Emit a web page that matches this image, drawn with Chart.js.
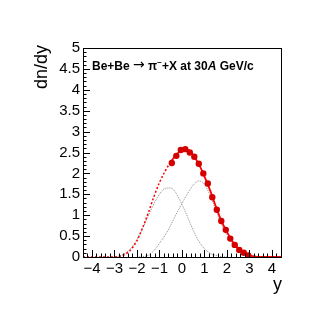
<!DOCTYPE html>
<html>
<head>
<meta charset="utf-8">
<script src="https://cdn.jsdelivr.net/npm/chart.js@4"></script>
<style>
  html, body { margin: 0; padding: 0; background: #fff; }
  #wrap { width: 332px; height: 322px; }
</style>
</head>
<body>
<div id="wrap"><canvas id="c" width="332" height="322"></canvas></div>
<script>
// rapidity grid for the fitted curves
const curveX = [-4.4, -3.0, -2.75, -2.5, -2.25, -2.0, -1.75, -1.5, -1.25, -1.0, -0.75, -0.5, -0.25,
  0, 0.25, 0.5, 0.75, 1.0, 1.25, 1.5, 1.75, 2.0, 2.25, 2.5, 2.75, 3.0, 3.25, 3.5, 4.45];
// total fit (red)
const totalFit = [0, 0, 0.02, 0.07, 0.19, 0.39, 0.70, 1.05, 1.44, 1.78, 2.05, 2.27, 2.45,
  2.55, 2.57, 2.44, 2.22, 1.93, 1.60, 1.22, 0.87, 0.60, 0.37, 0.20, 0.10, 0.04, 0.01, 0, 0];
// two gaussian components (grey)
const leftGauss = [null, 0, 0.03, 0.10, 0.22, 0.42, 0.68, 0.98, 1.27, 1.50, 1.64, 1.65, 1.52,
  1.26, 0.96, 0.64, 0.38, 0.20, 0.09, 0.04, 0.01, 0, null, null, null, null, null, null, null];
const rightGauss = [null, null, null, null, null, 0, 0.01, 0.04, 0.15, 0.33, 0.52, 0.76, 1.03,
  1.28, 1.52, 1.72, 1.82, 1.74, 1.48, 1.13, 0.79, 0.52, 0.31, 0.17, 0.09, 0.04, 0.02, 0, null];
// measured points
const dataY = [-0.45, -0.25, -0.05, 0.15, 0.35, 0.55, 0.75, 0.95, 1.15, 1.35, 1.55, 1.75,
  1.95, 2.15, 2.35, 2.55, 2.75, 2.95];
const dataDn = [2.25, 2.42, 2.56, 2.58, 2.50, 2.40, 2.23, 2.00, 1.76, 1.43, 1.13, 0.86,
  0.65, 0.44, 0.29, 0.17, 0.10, 0.04];

const FONT = '"Liberation Sans", Arial, Helvetica, sans-serif';
const pts = (xs, ys) => xs.map((x, i) => ({ x, y: ys[i] }));
const fitFrom = dataY[0];

// ROOT-like frame, inner ticks, title and axis labels
const rootFrame = {
  id: 'rootFrame',
  afterDatasetsDraw(chart) {
    const { ctx, chartArea: a, scales } = chart;
    const xs = scales.x, ys = scales.y;
    ctx.save();
    ctx.strokeStyle = '#000';
    ctx.lineWidth = 1;
    ctx.strokeRect(Math.round(a.left) + 0.5, Math.round(a.top) + 0.5,
      Math.round(a.right - a.left) - 1, Math.round(a.bottom - a.top));
    ctx.beginPath();
    for (let i = 0; i <= 50; i++) {
      const v = i / 10;
      const y = Math.round(ys.getPixelForValue(v)) + 0.5;
      const len = i % 5 === 0 ? 7 : 3.5;
      ctx.moveTo(a.left, y);
      ctx.lineTo(a.left + len, y);
    }
    for (let i = -22; i <= 22; i++) {
      const v = i / 5;
      const x = Math.round(xs.getPixelForValue(v)) + 0.5;
      const len = i % 5 === 0 ? 7 : 3.5;
      ctx.moveTo(x, a.bottom);
      ctx.lineTo(x, a.bottom - len);
    }
    ctx.stroke();

    // title
    ctx.fillStyle = '#000';
    ctx.textBaseline = 'alphabetic';
    ctx.textAlign = 'left';
    let x = 92;
    const base = 70;
    const piece = (t, f, dy) => {
      ctx.font = f;
      ctx.fillText(t, x, base + (dy || 0));
      x += ctx.measureText(t).width;
    };
    piece('Be+Be ', 'bold 12px ' + FONT);
    piece('\u2192', '14px "DejaVu Sans", ' + FONT, -1);
    piece(' \u03c0', 'bold 12px ' + FONT);
    piece('\u2212', 'bold 8px ' + FONT, -5);
    piece('+X at 30', 'bold 12px ' + FONT);
    piece('A', 'italic bold 12px ' + FONT);
    piece(' GeV/c', 'bold 12px ' + FONT);

    // axis titles
    ctx.font = '18px ' + FONT;
    ctx.textAlign = 'right';
    ctx.fillText('y', a.right, 290);
    ctx.translate(47, a.top - 3);
    ctx.rotate(-Math.PI / 2);
    ctx.textAlign = 'right';
    ctx.fillText('dn/dy', 0, 0);
    ctx.restore();
  }
};

new Chart(document.getElementById('c'), {
  type: 'line',
  data: {
    datasets: [
      {
        data: pts(curveX, leftGauss),
        borderColor: '#8c8c8c', borderWidth: 1, borderDash: [1, 1],
        pointRadius: 0, cubicInterpolationMode: 'monotone', spanGaps: false, order: 3
      },
      {
        data: pts(curveX, rightGauss),
        borderColor: '#8c8c8c', borderWidth: 1, borderDash: [1, 1],
        pointRadius: 0, cubicInterpolationMode: 'monotone', spanGaps: false, order: 3
      },
      {
        data: pts(curveX, totalFit),
        borderColor: '#ff0000', borderWidth: 1.8,
        pointRadius: 0, cubicInterpolationMode: 'monotone', order: 2,
        segment: {
          borderDash: c => c.p1.parsed.x <= fitFrom ? [2, 2] : undefined,
          borderWidth: c => c.p1.parsed.x <= fitFrom ? 1.5 : 1.8
        }
      },
      {
        data: pts(dataY, dataDn),
        showLine: false,
        pointRadius: 3.2, pointBackgroundColor: '#d40000', pointBorderColor: '#d40000',
        pointBorderWidth: 0, order: 1
      }
    ]
  },
  options: {
    responsive: false,
    animation: false,
    events: [],
    layout: { padding: { left: 0, top: 48, right: 50, bottom: 0 } },
    plugins: { legend: { display: false }, tooltip: { enabled: false }, title: { display: false } },
    scales: {
      x: {
        type: 'linear', min: -4.4, max: 4.45,
        grid: { display: false, drawTicks: false },
        border: { display: false },
        afterFit: s => { s.height = 65; },
        ticks: {
          stepSize: 1, includeBounds: false, autoSkip: false, padding: 3, color: '#000', maxRotation: 0,
          font: { family: FONT, size: 15 },
          callback: v => v < 0 ? '\u2212' + (-v) : String(v)
        }
      },
      y: {
        type: 'linear', min: 0, max: 5,
        grid: { display: false, drawTicks: false },
        border: { display: false },
        afterFit: s => { s.width = 83; },
        ticks: {
          stepSize: 0.5, includeBounds: false, autoSkip: false, padding: 3, color: '#000',
          font: { family: FONT, size: 15 },
          callback: v => String(v)
        }
      }
    }
  },
  plugins: [rootFrame]
});
</script>
</body>
</html>
